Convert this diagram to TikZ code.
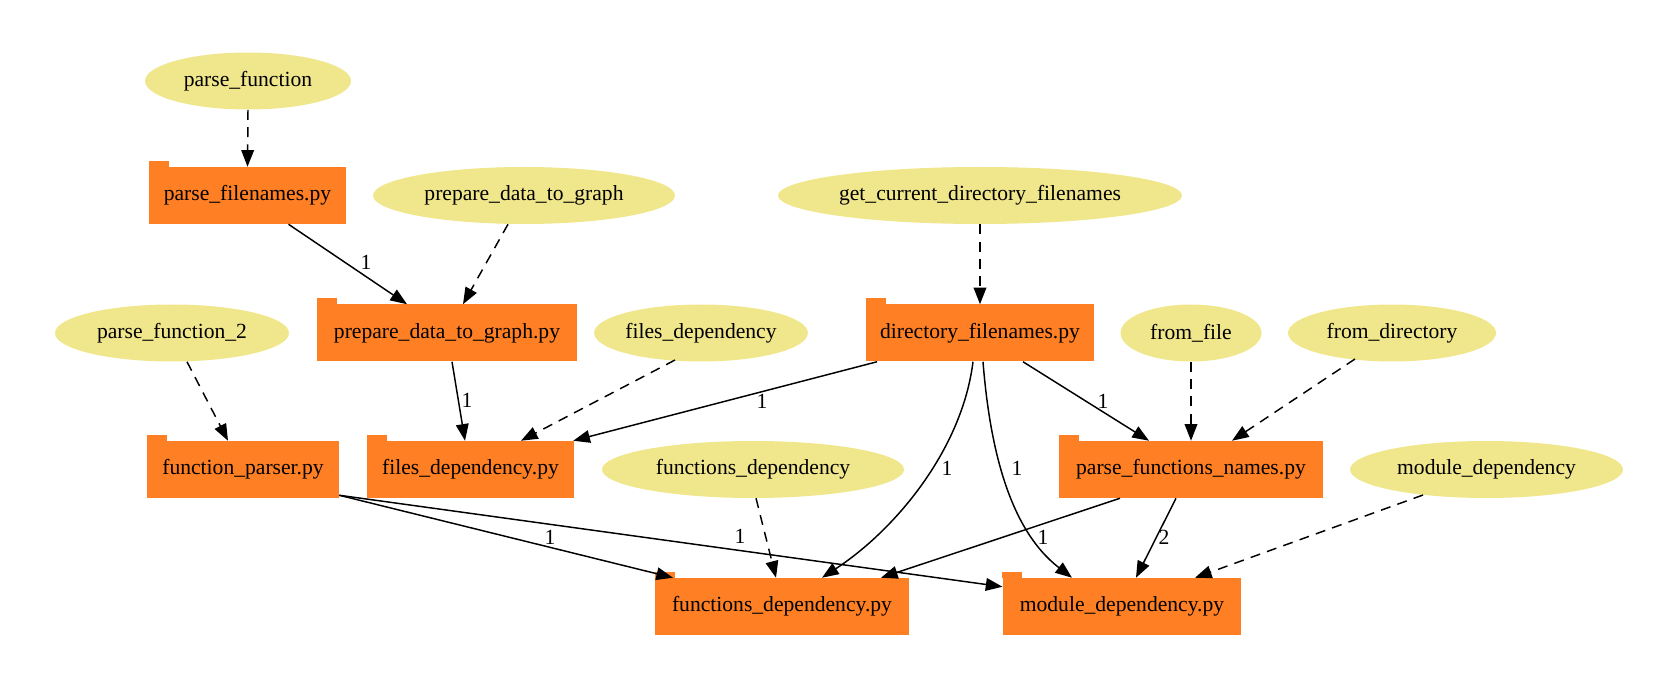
\documentclass[tikz,border=0pt]{standalone}
\usepackage{fontspec}
\setmainfont{Liberation Serif}
\usetikzlibrary{arrows.meta,calc,shapes.geometric}
\definecolor{folderorange}{HTML}{FF7F24}
\definecolor{khakifill}{HTML}{F0E68C}
\begin{document}
\begin{tikzpicture}[x=0.75pt,y=-0.75pt,
  every node/.style={font=\fontsize{16.2}{19}\selectfont},
  ell/.style={ellipse, fill=khakifill, inner sep=0pt, minimum height=42.75pt},
  folder/.style={rectangle, fill=folderorange, inner sep=0pt, minimum height=42.75pt},
  edge/.style={line width=1.1pt, -{Triangle[length=12.5pt,width=9.5pt]}},
  dep/.style={edge, dash pattern=on 7.5pt off 5.5pt},
  lab/.style={inner sep=0pt}]
\useasboundingbox (0,0) rectangle (1664,684);

% ellipses
\node[ell, minimum width=154.5pt] (pf) at (248,81) {parse\_function};
\node[ell, minimum width=226.5pt] (prepE) at (524,195.5) {prepare\_data\_to\_graph};
\node[ell, minimum width=303pt] (gcd) at (980,195.5) {get\_current\_directory\_filenames};
\node[ell, minimum width=175.5pt] (pf2) at (172,333) {parse\_function\_2};
\node[ell, minimum width=144.75pt] (filesE) at (701,333) {files\_dependency};
\node[ell, minimum width=105.75pt] (fromfile) at (1191,333) {from\_file};
\node[ell, minimum width=156pt] (fromdir) at (1392,333) {from\_directory};
\node[ell, minimum width=226.5pt] (funcsE) at (753,469.5) {functions\_dependency};
\node[ell, minimum width=204.75pt] (modE) at (1486.5,469.5) {module\_dependency};

% folders
\node[folder, minimum width=147.75pt] (pfnames) at (247.5,195.5) {parse\_filenames.py};
\node[folder, minimum width=195pt] (prepPy) at (447,333) {prepare\_data\_to\_graph.py};
\node[folder, minimum width=171pt] (dirPy) at (980,333) {directory\_filenames.py};
\node[folder, minimum width=144pt] (fpPy) at (243,469.5) {function\_parser.py};
\node[folder, minimum width=155.25pt] (filesPy) at (470.5,469.5) {files\_dependency.py};
\node[folder, minimum width=198pt] (pfuncPy) at (1191,469.5) {parse\_functions\_names.py};
\node[folder, minimum width=190.5pt] (funcPy) at (782,606.5) {functions\_dependency.py};
\node[folder, minimum width=178.9pt] (modPy) at (1122,606.5) {module\_dependency.py};
\foreach \n in {pfnames,prepPy,dirPy,fpPy,filesPy,pfuncPy,funcPy,modPy}
  \fill[folderorange] (\n.north west) rectangle ($(\n.north west)+(20,-6)$);

% dashed edges
\draw[dep] (pf.south) -- (pfnames.north);
\draw[dep] ($(prepE.south)+(-16,0)$) -- ($(prepPy.north)+(16,0)$);
\draw[dep] (gcd.south) -- (dirPy.north);
\draw[dep] ($(pf2.south)+(15,0)$) -- ($(fpPy.north)+(-15,0)$);
\draw[dep] ($(filesE.center)+(-26,27)$) -- ($(filesPy.north)+(50.5,0)$);
\draw[dep] (fromfile.south) -- (pfuncPy.north);
\draw[dep] ($(fromdir.center)+(-37,26)$) -- ($(pfuncPy.north)+(41,0)$);
\draw[dep] ($(funcsE.south)+(3,0)$) -- ($(funcPy.north)+(-6,0)$);
\draw[dep] ($(modE.center)+(-63.5,25.5)$) -- ($(modPy.north)+(73,0)$);

% solid edges
\draw[edge] ($(pfnames.south)+(41,0)$) -- ($(prepPy.north)+(-40,0)$) node[lab] at (366,262) {1};
\draw[edge] ($(prepPy.south)+(5,0)$) -- ($(filesPy.north)+(-5.5,0)$) node[lab] at (467,400) {1};
\draw[edge] ($(dirPy.south)+(-103,0)$) -- ($(filesPy.north east)+(-1,0)$) node[lab] at (762,401) {1};
\draw[edge] ($(dirPy.south)+(43,0)$) -- ($(pfuncPy.north)+(-42,0)$) node[lab] at (1103,401) {1};
\draw[edge] ($(dirPy.south)+(-7,0)$) .. controls (962,450) and (895,530) .. ($(funcPy.north)+(40,0)$) node[lab] at (947,468) {1};
\draw[edge] ($(dirPy.south)+(3,0)$) .. controls (990,450) and (1010,530) .. ($(modPy.north)+(-50,0)$) node[lab] at (1017,468) {1};
\draw[edge] ($(fpPy.south east)+(0,-3)$) -- ($(funcPy.north)+(-109,0)$) node[lab] at (550,537) {1};
\draw[edge] ($(fpPy.south east)+(0,-3)$) -- ($(modPy.north west)+(0,9)$) node[lab] at (740,536) {1};
\draw[edge] ($(pfuncPy.south)+(-71,0)$) -- ($(funcPy.north)+(99,0)$) node[lab] at (1043,537) {1};
\draw[edge] ($(pfuncPy.south)+(-15,0)$) -- ($(modPy.north)+(14,0)$) node[lab] at (1164,537) {2};
\end{tikzpicture}
\end{document}
